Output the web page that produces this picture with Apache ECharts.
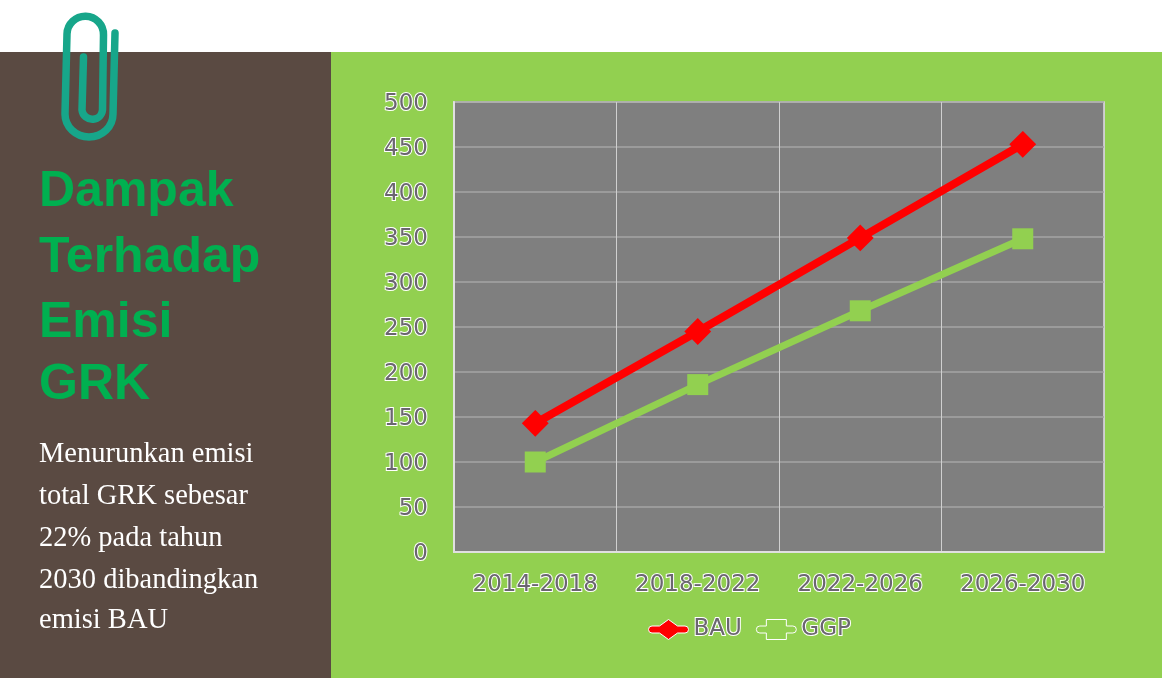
<!DOCTYPE html>
<html><head><meta charset="utf-8">
<style>html,body{margin:0;padding:0;background:#fff}#c{width:1162px;height:678px}</style>
<script src="https://cdn.jsdelivr.net/npm/echarts@6/dist/echarts.min.js"></script>
</head><body><div id="c"></div>
<script>
const categories = ['2014-2018','2018-2022','2022-2026','2026-2030'];
const bau = [143,245,349,453];
const ggp = [100,186,268,348];
const headingLines = ['Dampak','Terhadap','Emisi','GRK'];
const bodyLines = ['Menurunkan emisi','total GRK sebesar','22% pada tahun','2030 dibandingkan','emisi BAU'];
const labelStyle = {color:'#6b6670',fontFamily:'"DejaVu Sans"',fontSize:23,textBorderColor:'#fff',textBorderWidth:2};
const headingY=[192,258,323,385], bodyY=[455,497,539,581,621];
const bauIcon='path://M3.5 6.5L11 6.5L20 0L29 6.5L36.5 6.5A3.5 3.5 0 0 1 36.5 13.5L29 13.5L20 20L11 13.5L3.5 13.5A3.5 3.5 0 0 1 3.5 6.5Z';
const ggpIcon='path://M3.5 6.5L10 6.5L10 0L30 0L30 6.5L36.5 6.5A3.5 3.5 0 0 1 36.5 13.5L30 13.5L30 20L10 20L10 13.5L3.5 13.5A3.5 3.5 0 0 1 3.5 6.5Z';
echarts.graphic.registerShape('paperclip', echarts.graphic.extendPath('M83.5 57 L82 110 A10.3 10.3 0 0 0 102.5 110 L103.5 35 A18 18 0 0 0 67 34 L65 114 A24 23 0 0 0 113 114 L115 33', {}));
const chart = echarts.init(document.getElementById('c'),null,{renderer:'canvas'});
chart.setOption({
  animation:false,
  backgroundColor:'#fff',
  graphic:[
    {type:'rect',z:-10,shape:{x:0,y:52,width:331,height:626},style:{fill:'#5a4a42'}},
    {type:'rect',z:-10,shape:{x:331,y:52,width:831,height:626},style:{fill:'#92d050'}},
    {type:'paperclip',z:5,style:{fill:null,stroke:'#17a68a',lineWidth:7.5,lineCap:'round'}},
    ...headingLines.map((t,i)=>({type:'text',z:5,x:39,y:headingY[i],style:{text:t,fill:'#00b050',font:'bold 50px "Liberation Sans"',textVerticalAlign:'middle'}})),
    ...bodyLines.map((t,i)=>({type:'text',z:5,x:39,y:bodyY[i],style:{text:t,fill:'#fff',font:'28.5px "Liberation Serif"',textVerticalAlign:'middle'}}))
  ],
  grid:{left:454,right:58,top:102,bottom:126,backgroundColor:'#7f7f7f',show:true,borderColor:'#e0e0e0',borderWidth:1.5},
  xAxis:{type:'category',data:categories,boundaryGap:true,
    axisLine:{lineStyle:{color:'#e0e0e0',width:2}},axisTick:{show:false},
    splitLine:{show:true,interval:0,lineStyle:{color:'#d0d0d0',width:1}},
    axisLabel:{...labelStyle,interval:0,margin:22}},
  yAxis:{type:'value',min:0,max:500,interval:50,
    axisLine:{show:true,lineStyle:{color:'#e0e0e0',width:2}},axisTick:{show:false},
    splitLine:{show:true,lineStyle:{color:'#a5a5a5',width:1.5}},
    axisLabel:{...labelStyle,margin:26,verticalAlign:'top',lineHeight:4}},
  legend:{left:648,top:617,padding:0,itemWidth:40,itemHeight:20,itemGap:13,
    textStyle:{...labelStyle},
    data:[{name:'BAU',icon:bauIcon,itemStyle:{borderColor:'#fff',borderWidth:1}},{name:'GGP',icon:ggpIcon,itemStyle:{borderColor:'#fff',borderWidth:1}}]},
  series:[
    {name:'BAU',type:'line',data:bau,symbol:'diamond',symbolSize:24,z:3,
      lineStyle:{color:'#ff0000',width:8},itemStyle:{color:'#ff0000',borderColor:'#ff0000',borderWidth:2}},
    {name:'GGP',type:'line',data:ggp,symbol:'rect',symbolSize:21,z:2,
      lineStyle:{color:'#92d050',width:7},itemStyle:{color:'#92d050'}}
  ]
});
</script></body></html>
